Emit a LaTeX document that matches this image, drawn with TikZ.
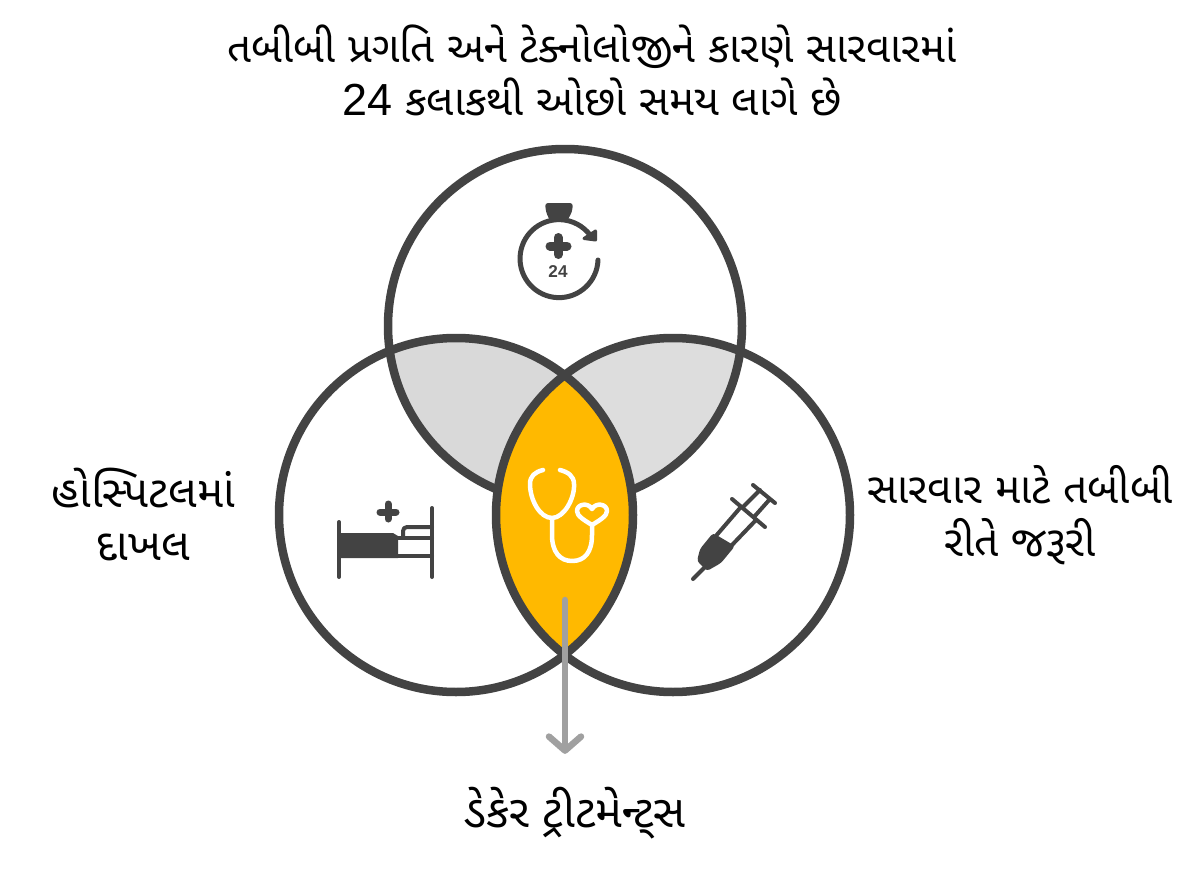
\documentclass[tikz,border=0pt]{standalone}
\usepackage{fontspec}
\setmainfont[Script=Gujarati]{Noto Sans Gujarati UI}
\newfontfamily\digitfont[Scale=1.07]{Liberation Sans}
\usetikzlibrary{positioning, arrows.meta}
\definecolor{ringgray}{HTML}{434343}
\definecolor{lensyellow}{HTML}{FFB900}
\definecolor{lensgray}{HTML}{D9D9D9}
\definecolor{lenslight}{HTML}{DDDDDD}
\definecolor{arrowgray}{HTML}{A0A0A0}
\newcommand{\labelfont}{\fontsize{42}{53}\selectfont}
\newcommand{\sidefont}{\fontsize{44}{53}\selectfont}
\tikzset{
	ring/.style={circle, draw=ringgray, line width=8.5pt, minimum size=354pt, inner sep=0pt, outer sep=0pt},
	venntext/.style={align=center, text=black, font=\labelfont, inner sep=0pt},
	icon/.style={draw=ringgray, line width=4pt, line cap=round, line join=round},
	scopeicon/.style={draw=white, line width=4.5pt, line cap=round, line join=round}
}

\begin{document}
\begin{tikzpicture}[x=1pt, y=-1pt]
	\useasboundingbox (0,0) rectangle (1200,883);
	% grey lenses, then the top ring, then the yellow lens over it
	\begin{scope}
		\clip (565,326) circle (177pt);
		\fill [lensgray] (456,515) circle (177pt);
		\fill [lenslight] (673,515) circle (177pt);
	\end{scope}
	\node [ring] (topring) at (565,326) {};
	\begin{scope}
		\clip (456,515) circle (177pt);
		\fill [lensyellow] (673,515) circle (177pt);
	\end{scope}
	\node [ring] (leftring) at (456,515) {};
	\node [ring] (rightring) at (673,515) {};
	% texts
	\node [venntext] (title) at (592,70) {તબીબી પ્રગતિ અને ટેક્નોલોજીને કારણે સારવારમાં\\{\digitfont 24} કલાકથી ઓછો સમય લાગે છે};
	\node [venntext, font=\sidefont, left=44pt of leftring] (hospital) {હોસ્પિટલમાં\\દાખલ};
	\node [venntext, font=\fontsize{42.5}{53}\selectfont, right=17pt of rightring] (medical) {સારવાર માટે તબીબી\\રીતે જરૂરી};
	\node [venntext, font=\fontsize{45}{53}\selectfont] (daycare) at (575,813) {ડેકેર ટ્રીટમેન્ટ્સ};
	% arrow out of the yellow lens
	\coordinate (lensbottom) at (565,600);
	\draw [-{Straight Barb[round,length=14pt,width=32pt]}, draw=arrowgray, line width=6.5pt, line cap=round, shorten >=33pt] (lensbottom) -- (lensbottom |- daycare.north);
	% timer icon
	\draw [icon, line width=5pt] (598,260) arc [start angle=-2, end angle=-323, radius=39pt];
	\fill [ringgray, rounded corners=3pt] (545,203) -- (573,203) -- (572,212) -- (567,221) -- (550,221) -- (546,212) -- cycle;
	\filldraw [icon, fill=ringgray, line width=3pt] (595.5,231) -- (595.5,240) -- (584,238.5) -- cycle;
	\draw [icon, line width=9pt] (558,237.5) -- (558,254.5) (550,246) -- (567,246);
	\node [font=\digitfont\bfseries\fontsize{16}{16}\selectfont, text=ringgray, inner sep=0pt] (hours) at (558,272) {24};
	% bed icon
	\fill [ringgray] (339,533) -- (393,533) -- (398,536) -- (398,558) -- (339,558) -- cycle;
	\draw [icon] (339,522) -- (339,577) (432,508) -- (432,577) (398,556) -- (432,556) (398,538) -- (432,538);
	\draw [icon, rounded corners=4pt] (403,536) -- (403,527) -- (432,527);
	\draw [icon, line width=7pt] (388,504) -- (388,519) (380,512) -- (396,512);
	% stethoscope icon
	\draw [scopeicon] (543,470) .. controls (535,472) and (530,476) .. (530,484) .. controls (530,500) and (540,518) .. (552,518) .. controls (564,518) and (575,498) .. (574,484) .. controls (574,476) and (568,472) .. (560,470);
	\draw [scopeicon] (552,518) -- (552,535) .. controls (552,552) and (560,561) .. (572,561) .. controls (585,561) and (592,552) .. (592,535) -- (592,525);
	\draw [scopeicon] (592,525) .. controls (584,520) and (577,516) .. (577,511) .. controls (577,504) and (588,502) .. (592,509) .. controls (596,502) and (607,504) .. (607,511) .. controls (607,516) and (600,520) .. (592,525) -- cycle;
	% syringe icon
	\draw [icon] (753,485) -- (775,503) (732,499) -- (765,527) (743,507) -- (760,490) (754,517) -- (770,499) (740,508) -- (715,537) (756,520) -- (732,545) (706,566) -- (693,579);
	\fill [ringgray, rounded corners=3pt] (713,533) -- (735,546) -- (721,563) -- (707,571) -- (697,561) -- (700,549) -- cycle;
\end{tikzpicture}
\end{document}
